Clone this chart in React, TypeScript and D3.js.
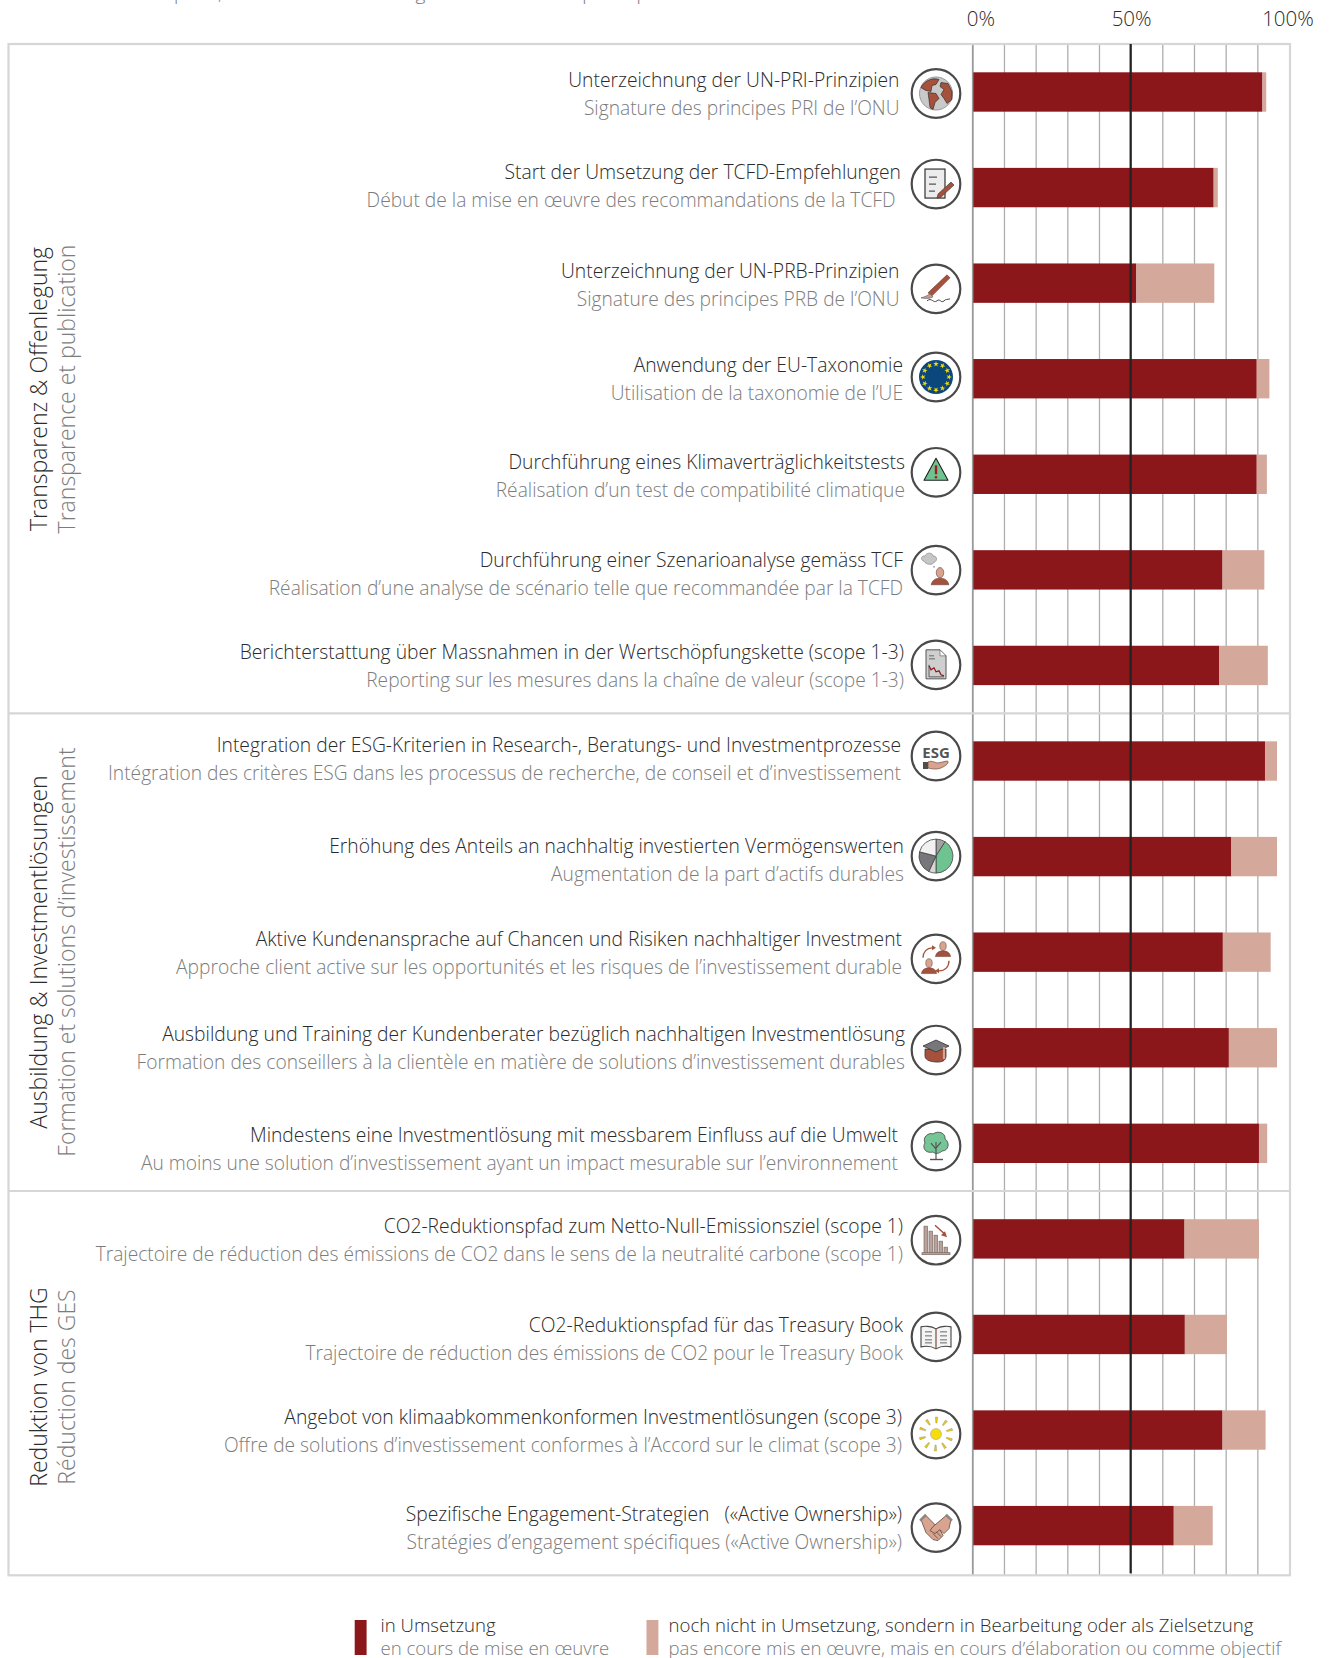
import React from "react";
import * as d3 from "d3";

const labelsDe = [
  "Unterzeichnung der UN-PRI-Prinzipien",
  "Start der Umsetzung der TCFD-Empfehlungen",
  "Unterzeichnung der UN-PRB-Prinzipien",
  "Anwendung der EU-Taxonomie",
  "Durchführung eines Klimaverträglichkeitstests",
  "Durchführung einer Szenarioanalyse gemäss TCF",
  "Berichterstattung über Massnahmen in der Wertschöpfungskette (scope 1-3)",
  "Integration der ESG-Kriterien in Research-, Beratungs- und Investmentprozesse",
  "Erhöhung des Anteils an nachhaltig investierten Vermögenswerten",
  "Aktive Kundenansprache auf Chancen und Risiken nachhaltiger Investment",
  "Ausbildung und Training der Kundenberater bezüglich nachhaltigen Investmentlösung",
  "Mindestens eine Investmentlösung mit messbarem Einfluss auf die Umwelt",
  "CO2-Reduktionspfad zum Netto-Null-Emissionsziel (scope 1)",
  "CO2-Reduktionspfad für das Treasury Book",
  "Angebot von klimaabkommenkonformen Investmentlösungen (scope 3)",
  "Spezifische Engagement-Strategien \u00a0 («Active Ownership»)",
];
const labelsFr = [
  "Signature des principes PRI de l’ONU",
  "Début de la mise en œuvre des recommandations de la TCFD",
  "Signature des principes PRB de l’ONU",
  "Utilisation de la taxonomie de l’UE",
  "Réalisation d’un test de compatibilité climatique",
  "Réalisation d’une analyse de scénario telle que recommandée par la TCFD",
  "Reporting sur les mesures dans la chaîne de valeur (scope 1-3)",
  "Intégration des critères ESG dans les processus de recherche, de conseil et d’investissement",
  "Augmentation de la part d’actifs durables",
  "Approche client active sur les opportunités et les risques de l’investissement durable",
  "Formation des conseillers à la clientèle en matière de solutions d’investissement durables",
  "Au moins une solution d’investissement ayant un impact mesurable sur l’environnement",
  "Trajectoire de réduction des émissions de CO2 dans le sens de la neutralité carbone (scope 1)",
  "Trajectoire de réduction des émissions de CO2 pour le Treasury Book",
  "Offre de solutions d’investissement conformes à l’Accord sur le climat (scope 3)",
  "Stratégies d’engagement spécifiques («Active Ownership»)",
];
const inProgress = [91.3, 75.9, 51.5, 89.5, 89.5, 78.7, 77.7, 92.1, 81.5, 78.8, 80.7, 90.2, 66.7, 66.8, 78.7, 63.3];
const planned = [1.2, 1.3, 24.6, 4, 3.2, 13.2, 15.3, 3.8, 14.4, 15.1, 15.2, 2.6, 23.5, 13.3, 13.6, 12.3];
const tickLabels = [0, 50, 100];
const gridTicks = d3.range(0, 100, 10);
const pieShares = [9, 41, 7, 22, 21];
const pieFills = ["#a5a2a3", "#6fc391", "#d6d6d6", "#77767a", "#f2f1f1"];

const groupsDe = ["Transparenz & Offenlegung", "Ausbildung & Investmentlösungen", "Reduktion von THG"];
const groupsFr = ["Transparence et publication", "Formation et solutions d’investissement", "Réduction des GES"];

// the source was laid out by hand, rows are a few px off the bars
const labelRight = [899.5, 901, 899.5, 903, 905, 903, 904, 901, 904, 902, 905, 898, 903, 903, 902, 902];
const labelNudge = [-5.1, -8.4, -5.5, -7.2, -5.5, -2.6, -6.8, -9.4, -3.9, -6.3, -6.9, -1.1, -5.4, -2.7, -6.4, -4.9];
const iconNudge = [1.5, -3.5, 5.7, -1.7, -2, 0.3, -0.6, -5, -0.5, 6.7, 2.3, 2.7, 1.3, 2.4, 4, 2];

const width = 1329;
const height = 1658;
const DARK = "#8c171b";
const LIGHT = "#d4a99c";
const BROWN = "#a5513c";
const SKIN = "#d8a48f";
const TEXT_DE = "#2b2b2b";
const TEXT_FR = "#7c7c7c";
const FONT = "'Open Sans', sans-serif";

const x = d3.scaleLinear().domain([0, 100]).range([973.3, 1290]);
const y = d3.scaleBand<number>().domain(d3.range(labelsDe.length)).range([72.3, 1545.3]).paddingInner(0.588);

const stacked = d3.stack<number, number, string>().keys(["inProgress", "planned"]).value((i, key) => (key === "inProgress" ? inProgress[i] : planned[i]))(d3.range(labelsDe.length));

const person = (cx: number, cy: number, s = 1) => (
  <g transform={`translate(${cx},${cy}) scale(${s})`} stroke="#6b4a3f" strokeWidth={0.6}>
    <ellipse cx={0} cy={-5} rx={3.4} ry={4.6} fill={SKIN} />
    <path d="M-8,6 C-7,1 -3,0 0,0 C3,0 7,1 8,6 Z" fill={BROWN} />
  </g>
);

const icons: (() => React.ReactNode)[] = [
  // globe
  () => (
    <g>
      <circle r={16.5} fill="#c9c9c9" stroke="#999" />
      <path d="M-15,-6 C-11,-14 -2,-16 3,-14 L0,-9 L-4,-8 L-5,-2 L-10,-3 L-12,-4 Z" fill={BROWN} stroke="#222" strokeWidth={0.6} />
      <path d="M-8,-1 L0,0 L3,5 L-1,9 L-3,16 L-6,14 L-7,6 Z" fill={BROWN} stroke="#222" strokeWidth={0.6} />
      <path d="M5,-11 L12,-10 L16,-2 L16,6 L11,10 L8,5 L5,1 L8,-4 L4,-7 Z" fill={BROWN} stroke="#222" strokeWidth={0.6} />
    </g>
  ),
  // document + pen
  () => (
    <g>
      <rect x={-11} y={-15} width={20} height={29} fill="#ececec" stroke="#333" strokeWidth={1.2} />
      <path d="M-7,-7 H1 M-7,0 H0 M-7,7 H-1" stroke="#555" strokeWidth={1.2} />
      <path d="M15,-2 L18,1 L5,13 L1,14 L2,10 Z" fill={BROWN} stroke="#333" strokeWidth={0.6} />
    </g>
  ),
  // brush + signature
  () => (
    <g>
      <path d="M11,-14 L14,-11 L-4,7 L-8,4 Z" fill={BROWN} stroke="#6b3a2c" strokeWidth={0.6} />
      <path d="M-6,5 L-3,8 C-6,10 -10,10 -15,9 C-11,8 -9,7 -6,5 Z" fill="#c79c8d" stroke="#555" strokeWidth={0.6} />
      <path d="M-9,12 C-4,8 -3,15 1,12 C4,9 5,15 8,12 C10,10 11,11 14,10" fill="none" stroke="#333" strokeWidth={0.9} />
    </g>
  ),
  // EU flag
  () => (
    <g>
      <circle r={17} fill="#0c477c" />
      {d3.range(12).map((i) => (
        <path key={i} transform={`rotate(${i * 30}) translate(0,-13)`} d={d3.symbol(d3.symbolStar, 10)() as string} fill="#f5d90a" />
      ))}
    </g>
  ),
  // warning triangle
  () => (
    <g>
      <path d="M0,-14 L12,8 L-12,8 Z" fill="#6fc391" stroke="#222" strokeWidth={1.1} strokeLinejoin="round" />
      <path d="M0,-7 V2" stroke="#a11d22" strokeWidth={2.4} />
      <circle cy={5} r={1.3} fill="#a11d22" />
    </g>
  ),
  // thinking person
  () => (
    <g>
      <path d="M-12,-9 C-16,-10 -15,-15 -11,-14 C-10,-18 -3,-18 -3,-14 C1,-15 2,-9 -2,-8 C-3,-5 -10,-5 -12,-9 Z" fill="#c6c6c6" stroke="#888" strokeWidth={0.7} />
      <circle cx={-2} cy={-3.5} r={1} fill="#aaa" />
      {person(4, 8, 1.1)}
    </g>
  ),
  // report with falling line
  () => (
    <g>
      <path d="M-10,-15 H4 L10,-9 V14 H-10 Z" fill="#cfcfcf" stroke="#555" strokeWidth={1} />
      <path d="M4,-15 V-9 H10 Z" fill="#fff" stroke="#555" strokeWidth={0.6} />
      <path d="M-7,-9 H-2 M-7,-6 H-1" stroke="#666" />
      <path d="M-7,1 L-5,5 L-2,3 L0,7 L3,6 L5,10 L8,11" fill="none" stroke={DARK} strokeWidth={1.2} />
      <path d="M-7,0 V12 H8" fill="none" stroke="#444" strokeWidth={0.8} />
    </g>
  ),
  // ESG in hand
  () => (
    <g>
      <text y={2} textAnchor="middle" fontFamily={FONT} fontWeight={700} fontSize={15} fill="#555">ESG</text>
      <rect x={-13} y={6} width={5} height={7} fill="#554c49" />
      <path d="M-8,6 C-4,4 -1,7 2,7 L11,5 C13,5 12,8 10,9 C5,13 0,14 -8,12 Z" fill={SKIN} stroke="#6b4a3f" strokeWidth={0.7} />
    </g>
  ),
  // pie
  () => {
    const arcs = d3.pie<number>().sort(null)(pieShares);
    const arc = d3.arc<d3.PieArcDatum<number>>().innerRadius(0).outerRadius(17);
    return (
      <g>
        {arcs.map((a, i) => (
          <path key={i} d={arc(a) as string} fill={pieFills[i]} stroke="#444" strokeWidth={0.8} />
        ))}
      </g>
    );
  },
  // client dialogue
  () => (
    <g>
      {person(7, -8, 0.95)}
      {person(-7, 9, 0.95)}
      <path d="M-13,-1 C-13,-7 -9,-11 -4,-11" fill="none" stroke={BROWN} strokeWidth={1.3} />
      <path d="M13,2 C13,8 9,12 3,12" fill="none" stroke={BROWN} strokeWidth={1.3} />
      <path d="M-4,-13.5 L0,-11 L-4,-8.5 Z M3,9.5 L-1,12 L3,14.5 Z" fill={BROWN} />
    </g>
  ),
  // graduation cap
  () => (
    <g>
      <path d="M-11,-1 V6 C-11,11 -3,12 2,12 C8,12 10,9 10,6 V-1 Z" fill={BROWN} stroke="#333" strokeWidth={0.8} />
      <path d="M-13,-4 L0,-10 L13,-4 L0,2 Z" fill="#77767a" stroke="#333" strokeWidth={0.8} />
      <path d="M8,-3 V9" stroke={SKIN} strokeWidth={2.2} />
    </g>
  ),
  // tree
  () => (
    <g>
      <path d="M-3,6 C-11,8 -14,1 -11,-3 C-14,-9 -7,-14 -3,-12 C2,-16 10,-13 9,-7 C14,-4 13,5 6,5 C3,8 -1,8 -3,6 Z" fill="#75c596" stroke="#444" strokeWidth={0.8} />
      <path d="M0,13 V-4 M0,3 L-5,-3 M0,2 L5,-4" stroke="#555" strokeWidth={1.2} fill="none" />
      <path d="M-6,13.5 H7" stroke="#555" strokeWidth={1.4} />
    </g>
  ),
  // falling bars
  () => (
    <g fill="#b9a29b" stroke="#7b6a64" strokeWidth={0.7}>
      <rect x={-12} y={-14} width={3.5} height={27} />
      <rect x={-7} y={-9} width={3.5} height={22} />
      <rect x={-2} y={-5} width={3.5} height={18} />
      <rect x={3} y={1} width={3.5} height={12} />
      <rect x={8} y={7} width={3.5} height={6} />
      <rect x={-14} y={12.5} width={28} height={2} />
      <path d="M-1,-15 L9,-6" fill="none" stroke={BROWN} strokeWidth={1.5} />
      <path d="M11,-3 L5,-5 L9,-9 Z" fill={BROWN} stroke="none" />
    </g>
  ),
  // book
  () => (
    <g fill="none" stroke="#444">
      <path d="M0,-8 C-5,-11 -12,-11 -15,-10 V10 C-10,9 -5,9 0,12 C5,9 10,9 15,10 V-10 C12,-11 5,-11 0,-8 Z" fill="#f4f4f4" strokeWidth={1.1} />
      <path d="M0,-8 V12" stroke="#7b4a3c" strokeWidth={1.2} />
      <path d="M-11,-5 H-4 M-11,-1 H-4 M-11,3 H-4 M-11,6 H-4 M4,-5 H11 M4,-1 H11 M4,3 H11 M4,6 H11" strokeWidth={0.8} />
    </g>
  ),
  // sun
  () => (
    <g>
      <circle r={5.5} fill="#f6dc0a" stroke="#999" strokeWidth={0.5} />
      {d3.range(10).map((i) => (
        <path key={i} transform={`rotate(${i * 36 + 2})`} d="M-1.2,-17 H1.2 L0.6,-11 H-0.6 Z" fill="#eac90c" stroke="#777" strokeWidth={0.3} />
      ))}
    </g>
  ),
  // handshake
  () => (
    <g stroke="#5d463e" strokeWidth={0.8}>
      <path d="M-15,-8 L-10,-12 L4,2 L7,8 L2,13 L-3,12 L-10,5 Z" fill={SKIN} />
      <path d="M15,-8 L10,-12 L-3,-1 L-6,3 L-1,6 L4,2 L8,6 L13,1 Z" fill={SKIN} />
      <path d="M-16,-7 L-10,-13 M16,-7 L10,-13" stroke="#888" strokeWidth={2.4} />
      <path d="M-3,6 L2,11 M0,4 L5,9" fill="none" />
    </g>
  ),
];

export default function App() {
  const top = 44;
  const bottom = 1575.3;
  const frameLeft = 8.5;
  const frameRight = x(100);
  const separators = [713.3, 1191];
  const groupMid = [389, 952, 1387];

  return (
    <svg width={width} height={height} viewBox={`0 0 ${width} ${height}`} style={{ position: "absolute", left: 0, top: 0, background: "#fff" }} fontFamily={FONT} fontWeight={300}>
      {/* the first line is cut by the page edge in the source as well */}
      <text x={25} y={0} fontSize={19} fill={TEXT_FR} textLength={671} lengthAdjust="spacing">Résultats de l’enquête, en % des sociétés de gestion de fortune participantes</text>

      {gridTicks.map((t) => (
        <line key={t} x1={x(t) - 0.5} x2={x(t) - 0.5} y1={top} y2={bottom} stroke={t === 0 ? "#999" : "#aeaeae"} strokeWidth={t === 0 ? 1.8 : 1.3} />
      ))}

      <rect x={frameLeft} y={top} width={frameRight - frameLeft} height={bottom - top} fill="none" stroke="#d6d6d6" strokeWidth={2.2} />
      {separators.map((s) => (
        <line key={s} x1={frameLeft} x2={frameRight} y1={s} y2={s} stroke="#d6d6d6" strokeWidth={2.2} />
      ))}

      {tickLabels.map((t) => (
        <text key={t} x={x(t) + (t === 0 ? 7.5 : t === 100 ? -2 : 0)} y={26} fontSize={20.5} textAnchor="middle" fill={TEXT_DE}>{t}%</text>
      ))}

      {stacked.map((layer) => (
        <g key={layer.key} fill={layer.key === "inProgress" ? DARK : LIGHT}>
          {layer.map((d, i) => (
            <rect key={i} x={x(d[0])} y={y(i)} width={x(d[1]) - x(d[0])} height={y.bandwidth()} />
          ))}
        </g>
      ))}

      <line x1={x(50) - 1} x2={x(50) - 1} y1={top} y2={bottom - 2} stroke="#222" strokeWidth={2.2} />

      {labelsDe.map((de, i) => {
        const mid = (y(i) as number) + y.bandwidth() / 2;
        const base = mid + labelNudge[i];
        return (
          <g key={de} textAnchor="end">
            <text x={labelRight[i]} y={base} fontSize={19.3} fill={TEXT_DE}>{de}</text>
            <text x={i === 1 ? labelRight[i] - 5.5 : labelRight[i]} y={base + 28} fontSize={19.2} fill={TEXT_FR}>{labelsFr[i]}</text>
          </g>
        );
      })}

      {icons.map((draw, i) => (
        <g key={i} transform={`translate(936,${(y(i) as number) + y.bandwidth() / 2 + iconNudge[i]})`}>
          <circle r={24.3} fill="#fff" stroke="#4a4a4a" strokeWidth={2.2} />
          {draw()}
        </g>
      ))}

      {groupsDe.map((g, i) => (
        <g key={g} textAnchor="middle">
          <text transform={`translate(46.7,${groupMid[i]}) rotate(-90)`} fontSize={23} fill={TEXT_DE}>{g}</text>
          <text transform={`translate(75,${groupMid[i]}) rotate(-90)`} fontSize={23} fill={TEXT_FR}>{groupsFr[i]}</text>
        </g>
      ))}

      <rect x={354.7} y={1620} width={11.9} height={35} fill={DARK} />
      <text x={380.5} y={1632} fontSize={18.6} fill={TEXT_DE}>in Umsetzung</text>
      <text x={380.5} y={1655} fontSize={18.6} fill={TEXT_FR}>en cours de mise en œuvre</text>
      <rect x={646.5} y={1620} width={11.9} height={35} fill={LIGHT} />
      <text x={668.5} y={1632} fontSize={18.6} fill={TEXT_DE}>noch nicht in Umsetzung, sondern in Bearbeitung oder als Zielsetzung</text>
      <text x={668.5} y={1655} fontSize={18.6} fill={TEXT_FR}>pas encore mis en œuvre, mais en cours d’élaboration ou comme objectif</text>
    </svg>
  );
}
